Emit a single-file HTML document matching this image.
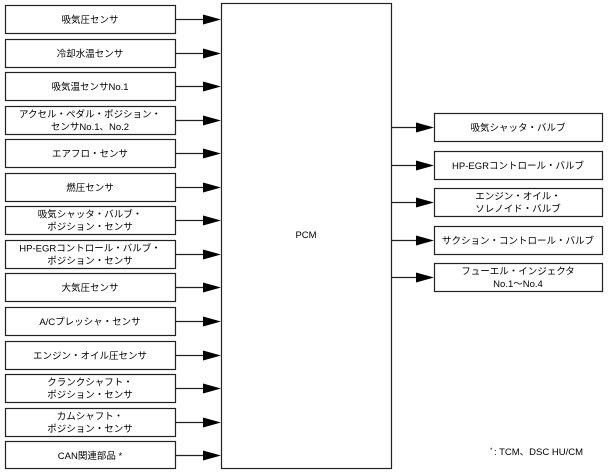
<!DOCTYPE html>
<html><head><meta charset="utf-8"><style>
html,body{margin:0;padding:0;background:#fff;width:608px;height:472px;overflow:hidden}
text{font-family:"Liberation Sans","Noto Sans CJK JP",sans-serif;font-size:9.5px;fill:#000}
rect{fill:#fff;stroke:#222;stroke-width:1.2}
line{stroke:#222;stroke-width:1.2}
polygon{fill:#000}
</style></head><body>
<svg width="608" height="472" viewBox="0 0 608 472" xmlns="http://www.w3.org/2000/svg">
<rect x="221.5" y="3.5" width="170" height="465"/>
<text x="306" y="238" text-anchor="middle">PCM</text>

<g text-anchor="middle">
<rect x="5.5" y="5.5" width="170" height="28"/><text x="90" y="23">吸気圧センサ</text>
<rect x="5.5" y="39.5" width="170" height="28"/><text x="90" y="57">冷却水温センサ</text>
<rect x="5.5" y="72.5" width="170" height="28"/><text x="90" y="90">吸気温センサNo.1</text>
<rect x="5.5" y="106.5" width="170" height="28"/><text x="90" y="117.5">アクセル・ペダル・ポジション・</text><text x="90" y="130">センサNo.1、No.2</text>
<rect x="5.5" y="139.5" width="170" height="28"/><text x="90" y="157">エアフロ・センサ</text>
<rect x="5.5" y="173.5" width="170" height="28"/><text x="90" y="191">燃圧センサ</text>
<rect x="5.5" y="206.5" width="170" height="28"/><text x="90" y="217.5">吸気シャッタ・バルブ・</text><text x="90" y="230">ポジション・センサ</text>
<rect x="5.5" y="240.5" width="170" height="28"/><text x="90" y="251.5">HP-EGRコントロール・バルブ・</text><text x="90" y="264">ポジション・センサ</text>
<rect x="5.5" y="273.5" width="170" height="28"/><text x="90" y="291">大気圧センサ</text>
<rect x="5.5" y="307.5" width="170" height="28"/><text x="90" y="325">A/Cプレッシャ・センサ</text>
<rect x="5.5" y="341.5" width="170" height="28"/><text x="90" y="359">エンジン・オイル圧センサ</text>
<rect x="5.5" y="374.5" width="170" height="28"/><text x="90" y="385.5">クランクシャフト・</text><text x="90" y="398">ポジション・センサ</text>
<rect x="5.5" y="408.5" width="170" height="28"/><text x="90" y="419.5">カムシャフト・</text><text x="90" y="432">ポジション・センサ</text>
<rect x="5.5" y="441.5" width="170" height="27"/><text x="90" y="459">CAN関連部品 *</text>

<rect x="434.5" y="113.5" width="168" height="28"/><text x="518" y="131">吸気シャッタ・バルブ</text>
<rect x="434.5" y="151.5" width="168" height="28"/><text x="518" y="169">HP-EGRコントロール・バルブ</text>
<rect x="434.5" y="188.5" width="168" height="28"/><text x="518" y="199.5">エンジン・オイル・</text><text x="518" y="212">ソレノイド・バルブ</text>
<rect x="434.5" y="226.5" width="168" height="28"/><text x="518" y="244">サクション・コントロール・バルブ</text>
<rect x="434.5" y="263.5" width="168" height="28"/><text x="518" y="274.5">フューエル・インジェクタ</text><text x="518" y="287">No.1～No.4</text>
</g>

<g>
<line x1="175" y1="19.5" x2="205" y2="19.5"/><polygon points="203,14.5 221,19.5 203,24.5"/>
<line x1="175" y1="53.5" x2="205" y2="53.5"/><polygon points="203,48.5 221,53.5 203,58.5"/>
<line x1="175" y1="86.5" x2="205" y2="86.5"/><polygon points="203,81.5 221,86.5 203,91.5"/>
<line x1="175" y1="120.5" x2="205" y2="120.5"/><polygon points="203,115.5 221,120.5 203,125.5"/>
<line x1="175" y1="153.5" x2="205" y2="153.5"/><polygon points="203,148.5 221,153.5 203,158.5"/>
<line x1="175" y1="187.5" x2="205" y2="187.5"/><polygon points="203,182.5 221,187.5 203,192.5"/>
<line x1="175" y1="220.5" x2="205" y2="220.5"/><polygon points="203,215.5 221,220.5 203,225.5"/>
<line x1="175" y1="254.5" x2="205" y2="254.5"/><polygon points="203,249.5 221,254.5 203,259.5"/>
<line x1="175" y1="287.5" x2="205" y2="287.5"/><polygon points="203,282.5 221,287.5 203,292.5"/>
<line x1="175" y1="321.5" x2="205" y2="321.5"/><polygon points="203,316.5 221,321.5 203,326.5"/>
<line x1="175" y1="355.5" x2="205" y2="355.5"/><polygon points="203,350.5 221,355.5 203,360.5"/>
<line x1="175" y1="388.5" x2="205" y2="388.5"/><polygon points="203,383.5 221,388.5 203,393.5"/>
<line x1="175" y1="422.5" x2="205" y2="422.5"/><polygon points="203,417.5 221,422.5 203,427.5"/>
<line x1="175" y1="455.5" x2="205" y2="455.5"/><polygon points="203,450.5 221,455.5 203,460.5"/>

<line x1="392" y1="127.5" x2="418" y2="127.5"/><polygon points="416,122.5 434,127.5 416,132.5"/>
<line x1="392" y1="165.5" x2="418" y2="165.5"/><polygon points="416,160.5 434,165.5 416,170.5"/>
<line x1="392" y1="202.5" x2="418" y2="202.5"/><polygon points="416,197.5 434,202.5 416,207.5"/>
<line x1="392" y1="240.5" x2="418" y2="240.5"/><polygon points="416,235.5 434,240.5 416,245.5"/>
<line x1="392" y1="277.5" x2="418" y2="277.5"/><polygon points="416,272.5 434,277.5 416,282.5"/>
</g>

<text x="490" y="452" style="font-size:6px">*</text>
<text x="494" y="455">: TCM、DSC HU/CM</text>
</svg>
</body></html>
